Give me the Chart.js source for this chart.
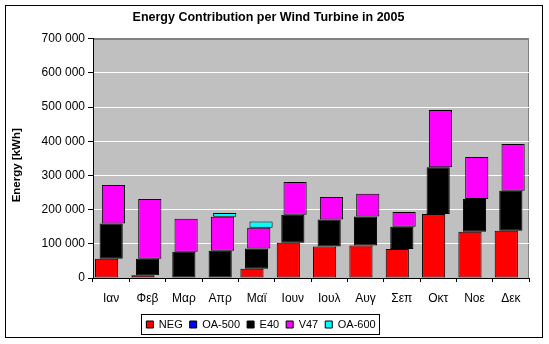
<!DOCTYPE html>
<html>
<head>
<meta charset="utf-8">
<script src="https://cdn.jsdelivr.net/npm/chart.js@4"></script>
<style>
  html, body { margin: 0; padding: 0; background: #ffffff; }
  #wrap { width: 549px; height: 344px; }
</style>
</head>
<body>
<div id="wrap"><canvas id="c" width="549" height="344"></canvas></div>
<script>
// ---- data (kWh) ----
const months = ['Ιαν','Φεβ','Μαρ','Απρ','Μαϊ','Ιουν','Ιουλ','Αυγ','Σεπ','Οκτ','Νοε','Δεκ'];
const seriesNames = ['NEG', 'OA-500', 'E40', 'V47', 'OA-600'];
const neg   = [56000, 8000, 0, 0, 27000, 103000, 92000, 95000, 85000, 187000, 135000, 138000];
const oa500 = [0, 0, 0, 0, 0, 0, 0, 0, 0, 0, 0, 0];
const e40   = [103000, 48000, 77000, 80000, 59000, 82000, 79000, 85000, 65000, 137000, 96000, 117000];
const v47   = [113000, 175000, 96000, 99000, 61000, 96000, 66000, 66000, 43000, 167000, 123000, 137000];
const oa600 = [0, 0, 0, 11000, 18000, 0, 0, 0, 0, 0, 0, 0];
const yTicks = [0, 100000, 200000, 300000, 400000, 500000, 600000, 700000];
const yTitle = 'Energy [kWh]';

const seriesValues = [neg, oa500, e40, v47, oa600];
const seriesColors = ['#FF0000', '#0000FF', '#000000', '#FF00FF', '#00FFFF'];

// stacked floating ranges: each series starts where the previous ones end
const running = months.map(() => 0);
const datasets = seriesValues.map((vals, si) => {
  const data = vals.map((v, i) => {
    const base = running[i];
    running[i] += v;
    return v > 0 ? [base, base + v] : null;
  });
  return {
    label: seriesNames[si],
    data: data,
    backgroundColor: seriesColors[si],
    borderColor: '#000000',
    borderWidth: 1,
    borderSkipped: false
  };
});

const FONT = '"Liberation Sans", Arial, sans-serif';

const frame = {
  id: 'frame',
  beforeDraw(chart) {
    const ctx = chart.ctx;
    const a = chart.chartArea;
    ctx.save();
    ctx.fillStyle = '#ffffff';
    ctx.fillRect(0, 0, chart.width, chart.height);
    ctx.strokeStyle = '#000000';
    ctx.lineWidth = 1;
    ctx.strokeRect(5.5, 5.5, chart.width - 12, chart.height - 12);
    ctx.fillStyle = '#C0C0C0';
    ctx.fillRect(a.left, a.top, a.right - a.left, a.bottom - a.top);
    ctx.strokeStyle = '#808080';
    ctx.strokeRect(Math.round(a.left) + 0.5, Math.round(a.top) + 0.5, Math.round(a.right - a.left) - 1, Math.round(a.bottom - a.top));
    ctx.restore();
  },
  afterLayout(chart) {
    const lg = chart.legend;
    if (lg) { lg.left -= 7.5; lg.right -= 7.5; }
  },
  afterDraw(chart) {
    const ctx = chart.ctx;
    // y axis title
    const a = chart.chartArea;
    ctx.save();
    ctx.translate(17, (a.top + a.bottom) / 2 + 7);
    ctx.rotate(-Math.PI / 2);
    ctx.font = 'bold 11.5px ' + FONT;
    ctx.fillStyle = '#000000';
    ctx.textAlign = 'center';
    ctx.textBaseline = 'middle';
    ctx.fillText(yTitle, 0, 0);
    ctx.restore();
    // legend frame
    const lg = chart.legend;
    if (!lg || !lg.legendHitBoxes || !lg.legendHitBoxes.length) return;
    const hb = lg.legendHitBoxes;
    let l = Infinity, r = -Infinity, t = Infinity, b = -Infinity;
    hb.forEach(h => {
      l = Math.min(l, h.left); r = Math.max(r, h.left + h.width);
      t = Math.min(t, h.top); b = Math.max(b, h.top + h.height);
    });
    ctx.save();
    ctx.strokeStyle = '#000000';
    ctx.lineWidth = 1;
    ctx.strokeRect(Math.round(l - 5) + 0.5, Math.round(t - 5) + 0.5, Math.round(r - l + 9), Math.round(b - t + 9));
    ctx.restore();
  }
};

new Chart(document.getElementById('c'), {
  type: 'bar',
  data: { labels: months, datasets: datasets },
  plugins: [frame],
  options: {
    responsive: false,
    animation: false,
    devicePixelRatio: 1,
    layout: { padding: { left: 8, right: 20, top: 0, bottom: 4 } },
    datasets: {
      bar: { categoryPercentage: 0.3125, barPercentage: 10.2, grouped: true }
    },
    plugins: {
      title: {
        display: true,
        text: 'Energy Contribution per Wind Turbine in 2005',
        color: '#000000',
        font: { family: FONT, size: 12.5, weight: 'bold' },
        padding: { top: 10, bottom: 13.6 }
      },
      legend: {
        display: true,
        position: 'bottom',
        align: 'center',
        labels: {
          color: '#000000',
          font: { family: FONT, size: 11 },
          boxWidth: 7,
          boxHeight: 7,
          padding: 7
        }
      },
      tooltip: { enabled: false }
    },
    scales: {
      x: {
        type: 'category',
        offset: true,
        grid: {
          offset: true,
          drawOnChartArea: false,
          tickColor: '#000000',
          tickLength: 4
        },
        border: { color: '#000000', width: 1 },
        ticks: { color: '#000000', font: { family: FONT, size: 12 }, padding: 9, maxRotation: 0, autoSkip: false },
        afterFit(scale) { scale.height = 34; }
      },
      y: {
        min: yTicks[0],
        max: yTicks[yTicks.length - 1],
        afterBuildTicks(scale) { scale.ticks = yTicks.map(v => ({ value: v })); },
        grid: {
          color(ctx) {
            if (ctx.tick && ctx.tick.value === yTicks[yTicks.length - 1]) return '#808080';
            return '#FFFFFF';
          },
          tickColor: '#000000',
          tickLength: 5,
          lineWidth: 1
        },
        border: { color: '#000000', width: 1 },
        ticks: {
          color: '#000000',
          font: { family: FONT, size: 12 },
          padding: 3,
          callback(v) { return String(v).replace(/\B(?=(\d{3})+(?!\d))/g, ' '); }
        },
        afterFit(scale) { scale.width = 85; }
      }
    }
  }
});
</script>
</body>
</html>
